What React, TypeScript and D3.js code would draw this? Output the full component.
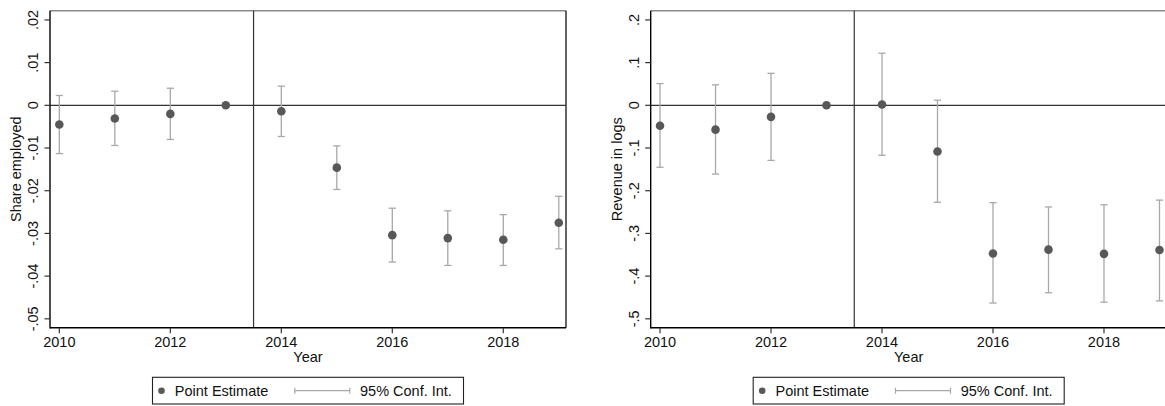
import React from "react";
import * as d3 from "d3";

// Event-study estimates, base year 2013
const years = [2010, 2011, 2012, 2013, 2014, 2015, 2016, 2017, 2018, 2019];
const xTicks = [2010, 2012, 2014, 2016, 2018];

const shareEst = [-0.0045, -0.0031, -0.002, 0, -0.0014, -0.0146, -0.0304, -0.0311, -0.0315, -0.0275];
const shareLo = [-0.0113, -0.0094, -0.008, null, -0.0073, -0.0197, -0.0367, -0.0375, -0.0375, -0.0336];
const shareHi = [0.0023, 0.0033, 0.004, null, 0.0045, -0.0095, -0.0241, -0.0247, -0.0256, -0.0213];
const shareTicks = [-0.05, -0.04, -0.03, -0.02, -0.01, 0, 0.01, 0.02];

const revEst = [-0.048, -0.057, -0.027, 0, 0.002, -0.108, -0.347, -0.338, -0.348, -0.339];
const revLo = [-0.145, -0.161, -0.129, null, -0.117, -0.227, -0.463, -0.439, -0.461, -0.458];
const revHi = [0.051, 0.048, 0.075, null, 0.122, 0.012, -0.228, -0.238, -0.233, -0.222];
const revTicks = [-0.5, -0.4, -0.3, -0.2, -0.1, 0, 0.1, 0.2];

const FONT = "'Liberation Sans', Arial, sans-serif";
const DOT = "#585858";
const CI = "#a8a8a8";

// Stata-style tick labels: ".02", "-.01", "0"
const fmtTick = (v: number) => {
  if (Math.abs(v) < 1e-12) return "0";
  const s = String(+v.toFixed(4));
  return s.replace(/^(-?)0\./, "$1.");
};

type PanelProps = {
  left: number;
  right: number;
  yLabel: string;
  est: number[];
  lo: (number | null)[];
  hi: (number | null)[];
  ticks: number[];
  yDomain: [number, number];
  xDomain: [number, number];
};

function Panel({ left, right, yLabel, est, lo, hi, ticks, yDomain, xDomain }: PanelProps) {
  const top = 10.7;
  const bottom = 327.7;
  const x = d3.scaleLinear().domain(xDomain).range([left, right]);
  const y = d3.scaleLinear().domain(yDomain).range([bottom, top]);
  const centerX = (left + right) / 2;
  const midY = (top + bottom) / 2;

  return (
    <g>
      {/* frame */}
      <line x1={left} x2={right} y1={top} y2={top} stroke="#8a8a8a" strokeWidth={1.6} />
      <line x1={right} x2={right} y1={top} y2={bottom} stroke="#111" strokeWidth={1.3} />
      {/* reference lines */}
      <line x1={left} x2={right} y1={y(0)} y2={y(0)} stroke="#333" strokeWidth={1.2} />
      <line x1={x(2013.5)} x2={x(2013.5)} y1={top} y2={bottom} stroke="#333" strokeWidth={1.2} />
      {/* axes */}
      <line x1={left} x2={left} y1={top} y2={bottom + 0.7} stroke="#000" strokeWidth={1.4} />
      <line x1={left} x2={right} y1={bottom} y2={bottom} stroke="#000" strokeWidth={1.4} />
      {ticks.map((t) => (
        <g key={t}>
          <line x1={left - 5.5} x2={left} y1={y(t)} y2={y(t)} stroke="#333" strokeWidth={1.2} />
          <text
            transform={`translate(${left - 11.8},${y(t)}) rotate(-90)`}
            textAnchor="middle"
            fontFamily={FONT}
            fontSize={14.5}
            fill="#111"
          >
            {fmtTick(t)}
          </text>
        </g>
      ))}
      {xTicks.map((t) => (
        <g key={t}>
          <line x1={x(t)} x2={x(t)} y1={bottom} y2={bottom + 5.5} stroke="#333" strokeWidth={1.2} />
          <text x={x(t)} y={347} textAnchor="middle" fontFamily={FONT} fontSize={14.5} fill="#111">
            {t}
          </text>
        </g>
      ))}
      <text x={centerX} y={362} textAnchor="middle" fontFamily={FONT} fontSize={14.5} fill="#111">
        Year
      </text>
      <text
        transform={`translate(${left - 29},${midY}) rotate(-90)`}
        textAnchor="middle"
        fontFamily={FONT}
        fontSize={14.5}
        fill="#111"
      >
        {yLabel}
      </text>
      {/* confidence intervals */}
      {years.map((yr, i) =>
        lo[i] == null || hi[i] == null ? null : (
          <g key={"ci" + yr} stroke={CI} strokeWidth={1.3}>
            <line x1={x(yr)} x2={x(yr)} y1={y(hi[i] as number)} y2={y(lo[i] as number)} />
            <line x1={x(yr) - 3.6} x2={x(yr) + 3.6} y1={y(hi[i] as number)} y2={y(hi[i] as number)} />
            <line x1={x(yr) - 3.6} x2={x(yr) + 3.6} y1={y(lo[i] as number)} y2={y(lo[i] as number)} />
          </g>
        )
      )}
      {/* point estimates */}
      {years.map((yr, i) => (
        <circle key={"pt" + yr} cx={x(yr)} cy={y(est[i])} r={4.3} fill={DOT} />
      ))}
      {/* legend */}
      <g transform={`translate(${centerX - 155.5},377.3)`}>
        <rect x={0} y={0} width={311} height={26.7} fill="#fff" stroke="#222" strokeWidth={1.1} />
        <circle cx={9} cy={13.4} r={3.3} fill={DOT} />
        <text x={22.3} y={18.6} fontFamily={FONT} fontSize={14.5} fill="#111">
          Point Estimate
        </text>
        <g stroke={CI} strokeWidth={1.2}>
          <line x1={142.3} x2={197.3} y1={13.4} y2={13.4} />
          <line x1={142.3} x2={142.3} y1={10.4} y2={16.4} />
          <line x1={197.3} x2={197.3} y1={10.4} y2={16.4} />
        </g>
        <text x={207.5} y={18.6} fontFamily={FONT} fontSize={14.5} fill="#111">
          95% Conf. Int.
        </text>
      </g>
    </g>
  );
}

export default function App() {
  return (
    <svg width={1165} height={406} style={{ display: "block", position: "absolute", left: 0, top: 0 }}>
      <rect x={0} y={0} width={1165} height={406} fill="#fff" />
      <Panel
        left={50}
        right={566}
        yLabel="Share employed"
        est={shareEst}
        lo={shareLo}
        hi={shareHi}
        ticks={shareTicks}
        yDomain={[-0.05208, 0.02216]}
        xDomain={[2009.832, 2019.13]}
      />
      <Panel
        left={650.7}
        right={1166.7}
        yLabel="Revenue in logs"
        est={revEst}
        lo={revLo}
        hi={revHi}
        ticks={revTicks}
        yDomain={[-0.5208, 0.2216]}
        xDomain={[2009.832, 2019.13]}
      />
    </svg>
  );
}
